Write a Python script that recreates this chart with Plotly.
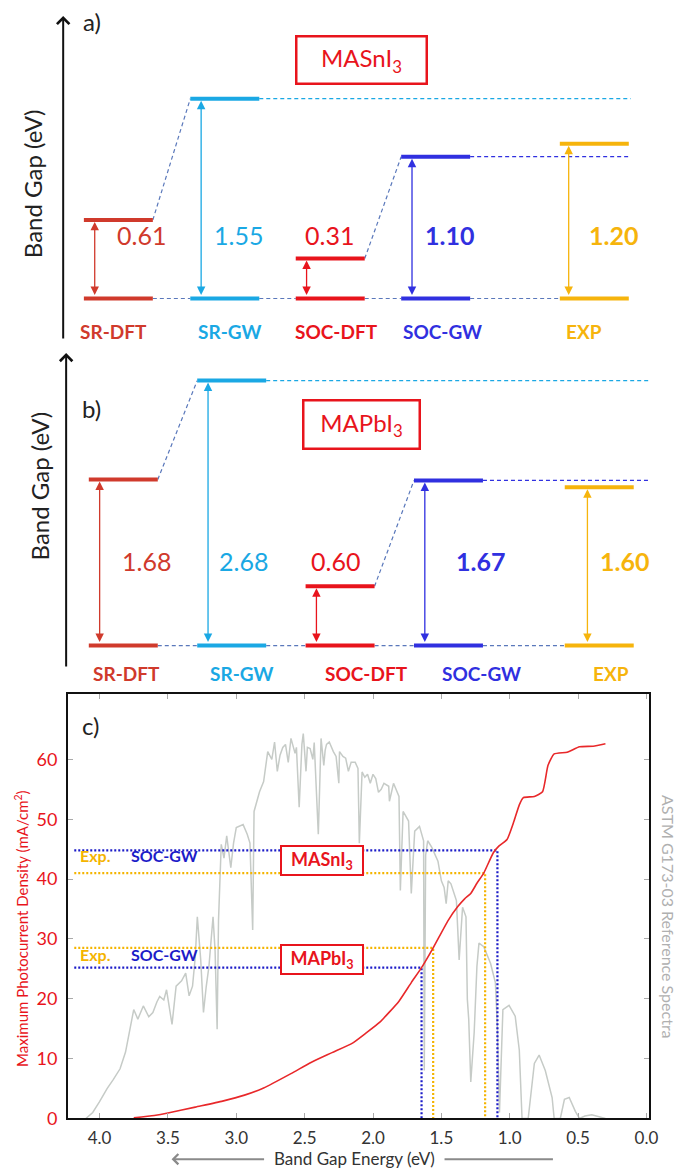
import plotly.graph_objects as go

W, H = 685, 1176
FONT = "Lato"

# ---------------- data ----------------
methods = ["SR-DFT", "SR-GW", "SOC-DFT", "SOC-GW", "EXP"]
method_colors = ["#d03a2c", "#1aa8e4", "#e8141c", "#3030e0", "#f6b40c"]
value_bold = [False, False, False, True, True]
gap_masni3 = [0.61, 1.55, 0.31, 1.10, 1.20]
gap_mapbi3 = [1.68, 2.68, 0.60, 1.67, 1.60]

# panel c: maximum photocurrent density vs band gap
red_E = [3.75, 3.6, 3.5, 3.3, 3.1, 2.94, 2.8, 2.6, 2.45, 2.3, 2.15, 2.05, 1.95, 1.81,
         1.72, 1.645, 1.56, 1.45, 1.38, 1.33, 1.285, 1.24, 1.19, 1.12, 1.08, 1.02,
         0.97, 0.93, 0.90, 0.82, 0.76, 0.72, 0.675, 0.58, 0.49, 0.39, 0.30]
red_J = [0.1, 0.5, 0.9, 1.9, 2.9, 3.9, 5.1, 7.5, 9.4, 11.0, 12.6, 14.3, 16.1, 19.6,
         22.7, 25.2, 28.5, 33.1, 35.4, 36.7, 37.6, 39.3, 41.0, 44.4, 45.5, 46.6,
         49.6, 52.4, 53.6, 53.8, 54.6, 59.0, 60.9, 61.2, 62.1, 62.2, 62.6]

# ASTM G173-03 spectrum (scaled to the left axis)
spec_E = [4.10, 4.05, 4.00, 3.945, 3.90, 3.85, 3.81, 3.78, 3.75, 3.72, 3.68, 3.64, 3.61,
          3.58, 3.56, 3.53, 3.51, 3.47, 3.44, 3.40, 3.37, 3.345, 3.32, 3.30, 3.285,
          3.26, 3.24, 3.22, 3.20, 3.17, 3.155, 3.14, 3.13, 3.11, 3.09, 3.07, 3.04,
          3.02, 3.00, 2.95, 2.92, 2.90, 2.88, 2.87, 2.83, 2.80, 2.77, 2.74, 2.72,
          2.70, 2.68, 2.66, 2.64, 2.62, 2.60, 2.57, 2.56, 2.54, 2.52, 2.51, 2.49,
          2.48, 2.46, 2.44, 2.43, 2.40, 2.38, 2.36, 2.35, 2.34, 2.32, 2.29, 2.27,
          2.25, 2.245, 2.22, 2.20, 2.18, 2.16, 2.13, 2.11, 2.10, 2.08, 2.06, 2.04,
          2.02, 2.00, 1.98, 1.96, 1.94, 1.92, 1.885, 1.88, 1.85, 1.83, 1.81, 1.80,
          1.78, 1.76, 1.74, 1.72, 1.695, 1.66, 1.63, 1.625,
          1.615, 1.60, 1.57, 1.525, 1.50, 1.48, 1.465, 1.45, 1.43, 1.39, 1.37, 1.345,
          1.32, 1.31, 1.30, 1.285, 1.26, 1.24, 1.225, 1.19, 1.14, 1.105, 1.09, 1.075,
          1.06, 1.05, 1.005, 0.96, 0.93, 0.91, 0.865, 0.84, 0.82, 0.785, 0.74, 0.69,
          0.675, 0.63, 0.60, 0.565, 0.52, 0.49, 0.45, 0.40, 0.35, 0.30]
spec_S = [0.0, 1.0, 2.8, 5.0, 6.5, 8.3, 11.1, 14.9, 18.2, 16.6, 18.8, 17.0, 17.7,
          19.5, 20.4, 19.8, 21.5, 15.7, 22.1, 23.0, 24.3, 20.5, 22.1, 27.0, 33.7,
          26.5, 17.7, 22.0, 25.4, 33.7, 28.0, 14.9, 33.1, 45.8, 43.5, 47.2, 41.9,
          46.0, 48.6, 49.1, 47.5, 46.0, 31.5, 51.3, 54.6, 56.3, 61.3, 60.0, 62.9,
          58.0, 60.7, 62.0, 62.5, 59.5, 63.5, 61.0, 62.0, 52.0, 62.5, 64.3, 58.0,
          62.0, 61.8, 60.0, 62.8, 47.5, 63.5, 59.0, 61.5, 62.5, 62.9, 61.3, 60.5,
          56.0, 61.3, 60.5, 60.2, 58.0, 59.5, 59.5, 58.5, 46.0, 57.9, 57.0, 57.5,
          56.0, 57.5, 56.8, 54.5, 55.0, 56.0, 55.5, 53.0, 56.0, 55.0, 53.8, 38.1,
          51.3, 50.5, 49.7, 37.6, 48.0, 48.8, 46.4, 8.0,
          44.0, 46.4, 45.3, 43.0, 39.7, 38.6, 35.9, 39.7, 39.2, 36.4, 26.5, 35.3,
          33.7, 19.9, 16.6, 6.1, 14.4, 25.4, 29.3, 28.7, 25.9, 22.7, 15.0, 1.0,
          12.0, 18.2, 18.9, 17.1, 11.4, 0.0, 0.0, 5.0, 9.2, 10.6, 8.0, 3.5,
          0.0, 0.0, 3.2, 3.5, 1.2, 0.0, 0.4, 0.6, 0.3, 0.0]

# guide lines in panel c: (band gap, current) as drawn
guide_E = [1.09, 1.18, 1.645, 1.56]
guide_J = [44.8, 41.0, 25.2, 28.5]
guide_kind = ["SOC-GW", "EXP", "SOC-GW", "EXP"]

x_ticks = [4.0, 3.5, 3.0, 2.5, 2.0, 1.5, 1.0, 0.5, 0.0]
y_ticks = [0, 10, 20, 30, 40, 50, 60]


# ---------------- helpers ----------------
def py(p):
    return 1 - p / H


def px(p):
    return p / W


def label(x, y, text, **kw):
    ang = kw.get("textangle", 0)
    if ang == -90:
        x -= 5
    elif ang == 90:
        x += 4
    else:
        y -= 4
    d = dict(x=px(x), y=py(y), xref="paper", yref="paper", text=text, showarrow=False,
             xanchor="center", yanchor="middle")
    d.update(kw)
    return d


fig = go.Figure()
ann = []
shapes = []

panels = [
    dict(vals=gap_masni3, xa="x", ya="y", left=[77, 185, 292, 399, 560],
         arrow_off=[11, 11, 11, 11, 9], lab_x=[135, 234, 326, 448, 614], lab_y=233,
         cat_x=[107, 225, 333, 441, 585], cat_y=330, ext_end=632,
         axis_x=56, axis_top=8, axis_bot=332, title_x=30, title_y=177,
         tag="a)", tag_x=85, tag_y=18, box_x=359, box_y=52, box_w=132, box_h=49,
         compound="MASnI<sub>3</sub>"),
    dict(vals=gap_mapbi3, xa="x2", ya="y2", left=[82, 192, 302, 412, 565],
         arrow_off=[11, 11, 11, 11, 23], lab_x=[141, 239, 332, 479, 626], lab_y=562,
         cat_x=[120, 237, 364, 481, 612], cat_y=675, ext_end=650,
         axis_x=59, axis_top=348, axis_bot=663, title_x=37, title_y=482,
         tag="b)", tag_x=85, tag_y=408, box_x=359, box_y=420, box_w=118, box_h=50,
         compound="MAPbI<sub>3</sub>"),
]
BAR_W = 70
DASH_BLUE = "#5a78bb"

for P in panels:
    v = P["vals"]
    L = P["left"]
    R = [l + BAR_W for l in L]
    xa, ya = P["xa"], P["ya"]
    # dashed connectors
    for k in range(4):
        fig.add_trace(go.Scatter(x=[R[k], L[k + 1]], y=[0, 0], mode="lines", xaxis=xa, yaxis=ya,
                                 line=dict(color=DASH_BLUE, width=1.2, dash="4px,3px"),
                                 hoverinfo="skip", showlegend=False))
    for a, b in [(0, 1), (2, 3)]:
        fig.add_trace(go.Scatter(x=[R[a], L[b]], y=[v[a], v[b]], mode="lines", xaxis=xa, yaxis=ya,
                                 line=dict(color=DASH_BLUE, width=1.2, dash="4px,3px"),
                                 hoverinfo="skip", showlegend=False))
    for k in (1, 3):
        fig.add_trace(go.Scatter(x=[R[k], P["ext_end"]], y=[v[k], v[k]], mode="lines",
                                 xaxis=xa, yaxis=ya,
                                 line=dict(color=method_colors[k], width=1.2, dash="4px,3px"),
                                 hoverinfo="skip", showlegend=False))
    # level bars
    for k in range(5):
        fig.add_trace(go.Scatter(x=[L[k], R[k], None, L[k], R[k]], y=[0, 0, None, v[k], v[k]],
                                 mode="lines", xaxis=xa, yaxis=ya,
                                 line=dict(color=method_colors[k], width=4),
                                 hoverinfo="skip", showlegend=False))
        xx = L[k] + P["arrow_off"][k]
        ann.append(dict(x=xx, y=v[k], ax=xx, ay=0, xref=xa, yref=ya, axref=xa, ayref=ya,
                        text="", showarrow=True, arrowside="end+start", arrowhead=2,
                        startarrowhead=2, arrowsize=1.3, startarrowsize=1.3, arrowwidth=1.3,
                        arrowcolor=method_colors[k], standoff=2, startstandoff=2))
        txt = f"{v[k]:.2f}"
        if value_bold[k]:
            txt = f"<b>{txt}</b>"
        ann.append(label(P["lab_x"][k], P["lab_y"], txt,
                         font=dict(family=FONT, size=25, color=method_colors[k])))
        ann.append(label(P["cat_x"][k], P["cat_y"], f"<b>{methods[k]}</b>",
                         font=dict(family=FONT, size=19, color=method_colors[k])))
    # vertical axis arrow
    ann.append(dict(x=px(P["axis_x"]), y=py(P["axis_top"]), xref="paper", yref="paper",
                    ax=0, ay=P["axis_bot"] - P["axis_top"], text="", showarrow=True,
                    arrowhead=4, arrowsize=1.2, arrowwidth=2, arrowcolor="#111"))
    ann.append(label(P["title_x"], P["title_y"], "Band Gap (eV)", textangle=-90,
                     font=dict(family=FONT, size=24, color="#222")))
    ann.append(label(P["tag_x"], P["tag_y"], P["tag"],
                     font=dict(family=FONT, size=24, color="#222")))
    ann.append(label(P["box_x"], P["box_y"] + 4, P["compound"], width=P["box_w"] - 4,
                     height=P["box_h"] - 4, borderpad=0, bordercolor="#e8141c",
                     borderwidth=2.5, bgcolor="white",
                     font=dict(family=FONT, size=24, color="#e8141c")))

# ---------------- panel c ----------------
fig.add_trace(go.Scatter(x=spec_E, y=spec_S, mode="lines", xaxis="x3", yaxis="y3",
                         line=dict(color="#c6cbc7", width=1.5), hoverinfo="skip",
                         showlegend=False))
guide_col = {"SOC-GW": "#1c1cc8", "EXP": "#f4b400"}
for E, J, kd in zip(guide_E, guide_J, guide_kind):
    fig.add_trace(go.Scatter(x=[4.185, E, E], y=[J, J, 0], mode="lines", xaxis="x3",
                             yaxis="y3", line=dict(color=guide_col[kd], width=2.2,
                                                   dash="2px,2px"),
                             hoverinfo="skip", showlegend=False))
fig.add_trace(go.Scatter(x=red_E, y=red_J, mode="lines", xaxis="x3", yaxis="y3",
                         line=dict(color="#e8282a", width=1.6, shape="spline", smoothing=0.5),
                         hoverinfo="skip", showlegend=False))

for yy, comp in [(860, "MASnI<sub>3</sub>"), (960, "MAPbI<sub>3</sub>")]:
    ann.append(label(319, yy + 4, f"<b>{comp}</b>", width=80, height=27, borderpad=0,
                     bordercolor="#e8141c", borderwidth=2, bgcolor="white",
                     font=dict(family=FONT, size=18, color="#e8141c")))
    ann.append(label(89, yy - 1, "<b>Exp.</b>",
                     font=dict(family=FONT, size=16, color="#f4b400")))
    ann.append(label(159, yy - 1, "<b>SOC-GW</b>",
                     font=dict(family=FONT, size=16, color="#1c1cc8")))

ann.append(label(84, 728, "c)", font=dict(family=FONT, size=24, color="#222")))
ann.append(label(18, 928, "Maximum Photocurrent Density (mA/cm<sup>2</sup>)", textangle=-90,
                 font=dict(family=FONT, size=15, color="#e8141c")))
ann.append(label(667, 917, "ASTM G173-03 Reference Spectra", textangle=90,
                 font=dict(family=FONT, size=16, color="#b0b0b0")))
ann.append(label(352, 1164, "Band Gap Energy (eV)",
                 font=dict(family=FONT, size=17, color="#333")))
ann.append(dict(x=px(166), y=py(1161), xref="paper", yref="paper", ax=94, ay=0, text="",
                showarrow=True, arrowhead=4, arrowsize=1, arrowwidth=2, arrowcolor="#8a8a8a"))
shapes.append(dict(type="line", xref="paper", yref="paper", x0=px(443), x1=px(553),
                   y0=py(1161), y1=py(1161), line=dict(color="#8a8a8a", width=2)))

hidden = dict(visible=False, showgrid=False, zeroline=False, fixedrange=True)

fig.update_layout(
    width=W, height=H, margin=dict(l=0, r=0, t=0, b=0),
    paper_bgcolor="white", plot_bgcolor="white", showlegend=False,
    xaxis=dict(domain=[0, 1], range=[0, W], anchor="y", **hidden),
    yaxis=dict(domain=[py(340), 1], range=[(293 - 340) / 130.0, 293 / 130.0], anchor="x",
               **hidden),
    xaxis2=dict(domain=[0, 1], range=[0, W], anchor="y2", **hidden),
    yaxis2=dict(domain=[py(690), py(340)], range=[(643 - 690) / 99.7, (643 - 340) / 99.7],
                anchor="x2", **hidden),
    xaxis3=dict(domain=[px(61), px(650)], range=[4.23, -0.015], anchor="y3",
                tickvals=x_ticks, ticktext=[f"{t:.1f}" for t in x_ticks],
                showline=True, mirror="allticks", linecolor="#111", linewidth=2,
                ticks="inside", ticklen=5, tickcolor="#aaa", tickwidth=1,
                showgrid=False, zeroline=False, ticklabelstandoff=3,
                tickfont=dict(family=FONT, size=17, color="#333")),
    yaxis3=dict(domain=[py(1120), py(692)], range=[0, 70.9], anchor="x3",
                tickvals=y_ticks, showline=True, mirror="allticks", linecolor="#111",
                linewidth=2, ticks="inside", ticklen=5, tickcolor="#aaa", tickwidth=1,
                showgrid=False, zeroline=False, ticklabelstandoff=5,
                tickfont=dict(family=FONT, size=18, color="#e8141c")),
    annotations=ann, shapes=shapes,
)

fig.write_html("out.html")
